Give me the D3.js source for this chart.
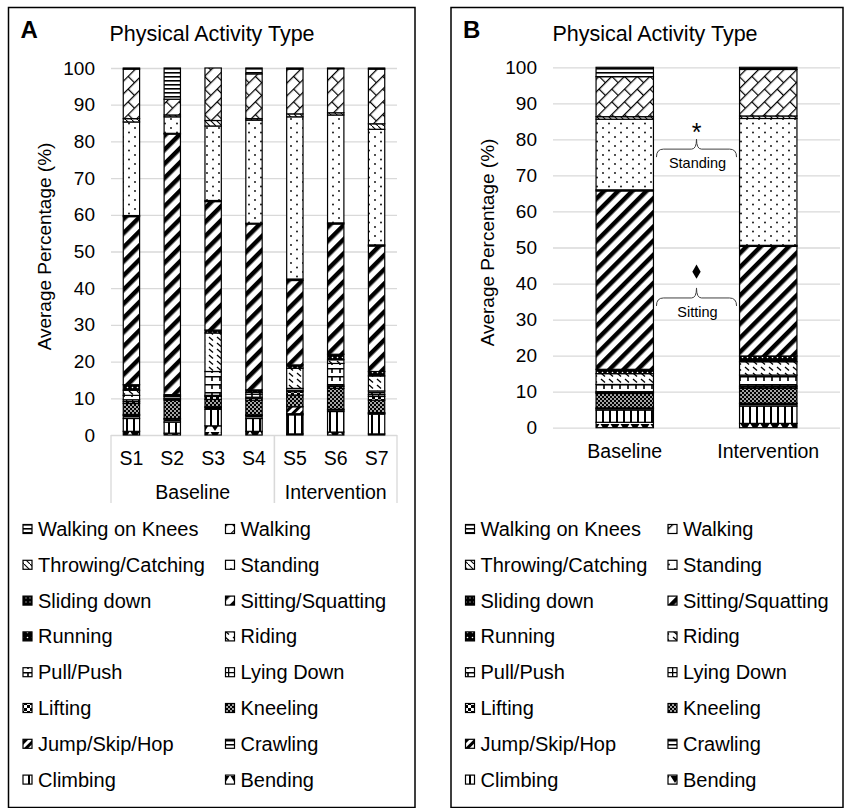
<!DOCTYPE html>
<html>
<head>
<meta charset="utf-8">
<title>Physical Activity Type</title>
<style>
  body { margin: 0; background: #fff; }
  svg { display: block; font-family: "Liberation Sans", Arial, sans-serif; }
  .grid line { stroke: #d9d9d9; stroke-width: 1.3; }
</style>
</head>
<body>
<script src="https://d3js.org/d3.v7.min.js"></script>
<script>
// stack order, bottom to top
const activities = ["Bending", "Climbing", "Crawling", "Jump/Skip/Hop", "Kneeling", "Lifting",
  "Lying Down", "Pull/Push", "Riding", "Running", "Sitting/Squatting", "Sliding down",
  "Standing", "Throwing/Catching", "Walking", "Walking on Knees"]
const subjects = ["S1", "S2", "S3", "S4", "S5", "S6", "S7"]
const subjectPhase = ["Baseline", "Baseline", "Baseline", "Baseline", "Intervention", "Intervention", "Intervention"]
const phases = ["Baseline", "Intervention"]
const yTicks = [0, 10, 20, 30, 40, 50, 60, 70, 80, 90, 100]

// panel A, one array per subject (same order as activities)
const s1 = [1.0, 3.5, 0.8, 0.3, 3.0, 0.5, 0.5, 1.2, 1.4, 1.5, 45.8, 0.3, 25.5, 0.9, 13.5, 0.3]
const s2 = [0.5, 3.0, 0.8, 0.2, 5.0, 0.3, 0.2, 0.5, 0.2, 0.3, 71.0, 0.2, 4.5, 0.5, 4.3, 8.5]
const s3 = [2.5, 4.5, 0.5, 0.2, 2.0, 0.8, 0.3, 6.5, 10.5, 0.8, 35.0, 0.3, 20.3, 1.5, 14.3, 0]
const s4 = [1.0, 3.5, 0.8, 0.2, 4.0, 0.5, 0.3, 0.8, 0.5, 0.7, 45.2, 0.2, 28.1, 0.4, 12.2, 1.6]
const s5 = [0.3, 5.2, 0.3, 1.9, 3.2, 0.9, 0.4, 0.5, 5.5, 0.9, 23.0, 0.4, 44.2, 0.8, 12.2, 0.3]
const s6 = [0.8, 5.6, 0.4, 0.2, 5.7, 0.5, 0.4, 5.9, 1.0, 1.5, 35.5, 0.3, 29.4, 0.6, 12.0, 0.2]
const s7 = [0.3, 5.4, 0.2, 0.2, 3.4, 1.0, 0.5, 1.0, 4.1, 1.2, 34.2, 0.3, 31.5, 1.5, 14.9, 0.3]

// panel B, phase averages
const baseline = [1.5, 3.4, 0.4, 0.2, 4.0, 0.3, 0.2, 2.0, 3.0, 1.2, 49.5, 0.3, 19.6, 0.7, 11.1, 2.6]
const intervention = [1.2, 4.8, 0.6, 0.2, 4.1, 0.4, 0.3, 3.0, 3.7, 1.6, 30.4, 0.3, 35.2, 0.7, 12.9, 0.6]

// significance notes in panel B
const noteLabels = ["Standing", "Sitting"]
const noteMarks = ["star", "diamond"]
const noteBracketAt = [77.3, 36.0]
const noteMarkAt = [83.2, 43.3]

function toRows(names, series) {
  return names.map((n, i) => {
    const row = { name: n }
    activities.forEach((a, j) => { row[a] = series[i][j] })
    return row
  })
}

const svg = d3.select("body").append("svg")
  .attr("width", 846)
  .attr("height", 808)
svg.append("rect").attr("width", 846).attr("height", 808).attr("fill", "#fff")

const defs = svg.append("defs")
function pattern(id, w, h, bg, rot) {
  const p = defs.append("pattern")
    .attr("id", id)
    .attr("patternUnits", "userSpaceOnUse")
    .attr("width", w)
    .attr("height", h)
  if (rot) p.attr("patternTransform", "rotate(" + rot + ")")
  p.append("rect").attr("width", w).attr("height", h).attr("fill", bg)
  return p
}

let p
// Bending - triangles
p = pattern("pat0", 10, 8, "#fff")
p.append("path").attr("d", "M0.5,0 L9.5,0 L5,7 Z").attr("fill", "#000")
// Climbing - vertical lines
p = pattern("pat1", 7, 10, "#fff")
p.append("rect").attr("width", 2).attr("height", 10).attr("fill", "#000")
// Crawling
p = pattern("pat2", 6, 4, "#fff")
p.append("rect").attr("width", 6).attr("height", 1.5).attr("fill", "#000")
// Jump/Skip/Hop
p = pattern("pat3", 6, 6, "#fff", 45)
p.append("rect").attr("width", 3).attr("height", 6).attr("fill", "#000")
// Kneeling - dense checker
p = pattern("pat4", 4, 4, "#000")
p.append("rect").attr("x", 0.2).attr("y", 0.2).attr("width", 1.6).attr("height", 1.6).attr("fill", "#fff")
p.append("rect").attr("x", 2.2).attr("y", 2.2).attr("width", 1.6).attr("height", 1.6).attr("fill", "#fff")
// Lifting
p = pattern("pat5", 6, 6, "#fff")
p.append("rect").attr("width", 3).attr("height", 3).attr("fill", "#000")
p.append("rect").attr("x", 3).attr("y", 3).attr("width", 3).attr("height", 3).attr("fill", "#000")
// Lying Down
p = pattern("pat6", 6, 6, "#fff")
p.append("path").attr("d", "M0,0 H6 V1.3 H1.3 V6 H0 Z").attr("fill", "#000")
// Pull/Push
p = pattern("pat7", 8, 8, "#fff")
p.append("rect").attr("width", 8).attr("height", 1.5).attr("fill", "#000")
p.append("rect").attr("x", 3.2).attr("width", 1.6).attr("height", 5).attr("fill", "#000")
// Riding - short dashes
p = pattern("pat8", 8, 6, "#fff")
p.append("path").attr("d", "M1,1 L5,4.5").attr("stroke", "#000").attr("stroke-width", 1.3)
// Running
p = pattern("pat9", 5, 5, "#000")
p.append("circle").attr("cx", 2.5).attr("cy", 2.5).attr("r", 0.8).attr("fill", "#fff")
// Sitting/Squatting - wide diagonal
p = pattern("pat10", 10, 10, "#fff", 45)
p.append("rect").attr("width", 4.5).attr("height", 10).attr("fill", "#000")
// Sliding down
p = pattern("pat11", 4, 4, "#000")
p.append("rect").attr("x", 1.5).attr("y", 1.5).attr("width", 1).attr("height", 1).attr("fill", "#fff")
// Standing - sparse dots
p = pattern("pat12", 12, 9, "#fff")
p.append("circle").attr("cx", 3).attr("cy", 2).attr("r", 0.9).attr("fill", "#000")
p.append("circle").attr("cx", 9).attr("cy", 6.5).attr("r", 0.9).attr("fill", "#000")
// Throwing/Catching
p = pattern("pat13", 6, 6, "#fff")
p.append("path").attr("d", "M0,0 L6,6").attr("stroke", "#000").attr("stroke-width", 1.1)
// Walking - diagonal brick
p = pattern("pat14", 18, 18, "#fff", -45)
p.append("path").attr("d", "M0,0.6 H18 M0,9.6 H18 M0.6,0.6 V9.6 M9.6,9.6 V18.6")
  .attr("stroke", "#000").attr("stroke-width", 1.2).attr("fill", "none")
// Walking on Knees - horizontal lines
p = pattern("pat15", 4, 4, "#fff")
p.append("rect").attr("width", 4).attr("height", 1.6).attr("fill", "#000")

function drawPanel(o) {
  const g = svg.append("g")
  g.append("rect")
    .attr("x", o.left).attr("y", 7.5)
    .attr("width", o.right - o.left).attr("height", 800)
    .attr("fill", "none").attr("stroke", "#000").attr("stroke-width", 1.5)
  g.append("text")
    .attr("x", o.left + 12).attr("y", 38)
    .attr("font-size", 24).attr("font-weight", "bold")
    .text(o.letter)
  g.append("text")
    .attr("x", o.titleX).attr("y", 40.5)
    .attr("text-anchor", "middle").attr("font-size", 21.5)
    .text("Physical Activity Type")

  const x = d3.scaleBand()
    .domain(o.rows.map(d => d.name))
    .range([o.plotLeft, o.plotRight])
    .paddingInner(0.6)
    .paddingOuter(0.3)
  const y = d3.scaleLinear()
    .domain([0, 100])
    .range([o.plotBottom, o.plotTop])

  g.append("g")
    .attr("class", "grid")
    .attr("transform", "translate(" + o.plotLeft + ",0)")
    .call(d3.axisLeft(y).tickValues(yTicks).tickSize(-(o.plotRight - o.plotLeft)).tickFormat(""))
    .call(s => s.select(".domain").remove())

  g.append("g")
    .attr("transform", "translate(" + o.plotLeft + ",0)")
    .call(d3.axisLeft(y).tickValues(yTicks).tickSize(0).tickPadding(16))
    .call(s => s.select(".domain").remove())
    .attr("font-family", null).attr("font-size", 19)

  g.append("text")
    .attr("transform", "translate(" + (o.left + 36) + "," + ((o.plotTop + o.plotBottom) / 2 - 5) + ") rotate(-90)")
    .attr("dy", "0.35em")
    .attr("text-anchor", "middle").attr("font-size", 19)
    .text("Average Percentage (%)")

  const stacked = d3.stack().keys(activities)(o.rows)
  g.append("g")
    .selectAll("g")
    .data(stacked)
    .join("g")
      .attr("fill", (d, i) => "url(#pat" + i + ")")
    .selectAll("rect")
    .data(d => d)
    .join("rect")
      .attr("x", d => x(d.data.name))
      .attr("width", x.bandwidth())
      .attr("y", d => y(d[1]))
      .attr("height", d => y(d[0]) - y(d[1]))
      .attr("stroke", "#000")
      .attr("stroke-width", 1.2)

  g.append("g")
    .attr("transform", "translate(0," + o.plotBottom + ")")
    .call(d3.axisBottom(x).tickSize(0).tickPadding(16))
    .call(s => s.select(".domain").remove())
    .attr("font-family", null).attr("font-size", 19.5)

  // legend, two columns, listed top series first
  const items = activities.slice().reverse()
  const leg = g.append("g")
  items.forEach((name, i) => {
    const row = Math.floor(i / 2)
    const col = i % 2
    const cy = 529 + row * 35.8
    const mx = o.left + (col === 0 ? 14.5 : 217)
    leg.append("rect")
      .attr("x", mx).attr("y", cy - 4.5)
      .attr("width", 9).attr("height", 9)
      .attr("fill", "url(#pat" + activities.indexOf(name) + ")")
      .attr("stroke", "#000").attr("stroke-width", 1.2)
    leg.append("text")
      .attr("x", mx + 15).attr("y", cy + 7)
      .attr("font-size", 20)
      .text(name)
  })
  return { g: g, x: x, y: y }
}

// Panel A
const panelA = drawPanel({
  left: 8.5, right: 415, letter: "A", titleX: 212,
  plotLeft: 111, plotRight: 397, plotTop: 68, plotBottom: 435,
  rows: toRows(subjects, [s1, s2, s3, s4, s5, s6, s7])
})

// phase grouping under the subject labels
{
  const x = panelA.x
  const half = (x.step() - x.bandwidth()) / 2
  const gA = panelA.g
  phases.forEach(ph => {
    const idx = subjects.filter((s, i) => subjectPhase[i] === ph)
    const x0 = x(idx[0]) - half
    const x1 = x(idx[idx.length - 1]) + x.bandwidth() + half
    gA.append("text")
      .attr("x", (x0 + x1) / 2).attr("y", 499)
      .attr("text-anchor", "middle").attr("font-size", 19.5)
      .text(ph)
    ;[x0, x1].forEach(xx => {
      gA.append("line")
        .attr("x1", xx).attr("x2", xx)
        .attr("y1", 435).attr("y2", 503)
        .attr("stroke", "#d9d9d9").attr("stroke-width", 1.3)
    })
  })
}

// Panel B
const panelB = drawPanel({
  left: 451, right: 843, letter: "B", titleX: 655,
  plotLeft: 553, plotRight: 840, plotTop: 67.3, plotBottom: 427.7,
  rows: toRows(phases, [baseline, intervention])
})

// brackets between the two bars
{
  const x = panelB.x
  const y = panelB.y
  const xl = x("Baseline") + x.bandwidth() + 3
  const xr = x("Intervention") - 3
  const xm = (xl + xr) / 2
  noteLabels.forEach((label, i) => {
    const yb = y(noteBracketAt[i])
    panelB.g.append("path")
      .attr("d", "M" + xl + "," + (yb + 8) + " Q" + xl + "," + yb + " " + (xl + 7) + "," + yb +
        " L" + (xm - 5) + "," + yb + " Q" + xm + "," + yb + " " + xm + "," + (yb - 10) +
        " Q" + xm + "," + yb + " " + (xm + 5) + "," + yb +
        " L" + (xr - 7) + "," + yb + " Q" + xr + "," + yb + " " + xr + "," + (yb + 8))
      .attr("fill", "none").attr("stroke", "#404040").attr("stroke-width", 1)
    panelB.g.append("text")
      .attr("x", xm + 1).attr("y", yb + 14).attr("dy", "0.35em")
      .attr("text-anchor", "middle").attr("font-size", 14.5)
      .text(label)
    const ym = y(noteMarkAt[i])
    if (noteMarks[i] === "star") {
      panelB.g.append("text")
        .attr("x", xm).attr("y", ym + 13)
        .attr("text-anchor", "middle").attr("font-size", 25)
        .text("*")
    } else {
      panelB.g.append("path")
        .attr("transform", "translate(" + xm + "," + ym + ")")
        .attr("d", d3.symbol(d3.symbolDiamond, 60)())
        .attr("fill", "#000")
    }
  })
}
</script>
</body>
</html>
